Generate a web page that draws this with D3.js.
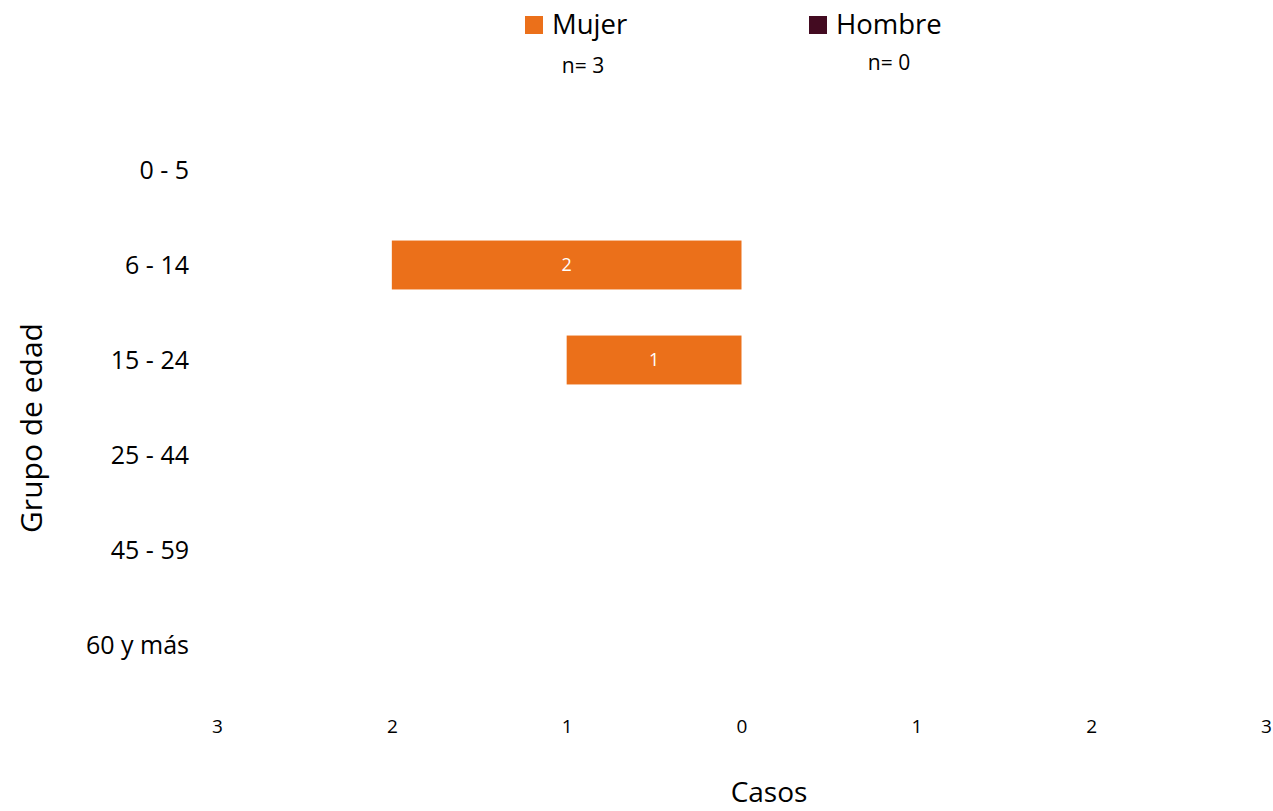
<!DOCTYPE html>
<html>
<head>
<meta charset="utf-8">
<script src="https://cdn.jsdelivr.net/npm/d3@7"></script>
<style>
  body { margin: 0; background: #fff; }
  text { font-family: "Open Sans", "Noto Sans", sans-serif; }
</style>
</head>
<body>
<svg id="chart"></svg>
<script>
const ageGroups = ["0 - 5", "6 - 14", "15 - 24", "25 - 44", "45 - 59", "60 y más"];
const mujerValues = [0, 2, 1, 0, 0, 0];
const hombreValues = [0, 0, 0, 0, 0, 0];
const xTicks = [-3, -2, -1, 0, 1, 2, 3];
const seriesNames = ["Mujer", "Hombre"];
const seriesTotals = [3, 0];
const seriesColors = ["#EB701A", "#430B21"];

const width = 1273;
const height = 811;

const svg = d3.select("#chart").attr("width", width).attr("height", height);

const x = d3.scaleLinear().domain([-3, 3]).range([217, 1266]);
const y = d3.scaleBand()
  .domain(ageGroups)
  .range([122.5, 692.5])
  .paddingInner(0.485)
  .paddingOuter(0.2425);

// bars: mujer to the left, hombre to the right
const rows = ageGroups.map((g, i) => ({ group: g, mujer: mujerValues[i], hombre: hombreValues[i] }));

svg.selectAll(".barM")
  .data(rows.filter(d => d.mujer > 0))
  .enter()
  .append("rect")
  .attr("class", "barM")
  .attr("x", d => x(-d.mujer))
  .attr("y", d => y(d.group))
  .attr("width", d => x(0) - x(-d.mujer))
  .attr("height", y.bandwidth())
  .style("fill", seriesColors[0]);

svg.selectAll(".barH")
  .data(rows.filter(d => d.hombre > 0))
  .enter()
  .append("rect")
  .attr("class", "barH")
  .attr("x", x(0))
  .attr("y", d => y(d.group))
  .attr("width", d => x(d.hombre) - x(0))
  .attr("height", y.bandwidth())
  .style("fill", seriesColors[1]);

svg.selectAll(".labM")
  .data(rows.filter(d => d.mujer > 0))
  .enter()
  .append("text")
  .attr("class", "labM")
  .attr("x", d => (x(-d.mujer) + x(0)) / 2)
  .attr("y", d => y(d.group) + y.bandwidth() / 2)
  .attr("dy", "0.36em")
  .style("text-anchor", "middle")
  .style("font-size", "18px")
  .style("fill", "#fff")
  .text(d => d.mujer);

// x axis (absolute values)
const xAxis = d3.axisBottom(x)
  .tickValues(xTicks)
  .tickFormat(d => Math.abs(d))
  .tickSize(0)
  .tickPadding(0);

const gx = svg.append("g").attr("transform", "translate(0,726)").call(xAxis);
gx.select(".domain").remove();
gx.selectAll("text")
  .attr("dy", "0.36em")
  .style("font-family", "'Open Sans', sans-serif")
  .style("font-size", "19px")
  .style("fill", "#000");

// y axis
const yAxis = d3.axisLeft(y).tickSize(0).tickPadding(0);
const gy = svg.append("g").attr("transform", "translate(189,0)").call(yAxis);
gy.select(".domain").remove();
gy.selectAll("text")
  .attr("dy", "0.36em")
  .style("font-family", "'Open Sans', sans-serif")
  .style("font-size", "25px")
  .style("fill", "#000");

// axis titles
svg.append("text")
  .attr("x", 769)
  .attr("y", 802)
  .style("text-anchor", "middle")
  .style("font-size", "28px")
  .text("Casos");

svg.append("text")
  .attr("transform", "translate(31,428) rotate(-90)")
  .attr("dy", "0.36em")
  .style("text-anchor", "middle")
  .style("font-size", "30px")
  .text("Grupo de edad");

// legend
const legendX = [525, 809];
const nX = [583, 889];
const nY = [65, 62];
const legend = svg.selectAll(".legend")
  .data(seriesNames)
  .enter()
  .append("g")
  .attr("class", "legend");

legend.append("rect")
  .attr("x", (d, i) => legendX[i])
  .attr("y", 16)
  .attr("width", 18)
  .attr("height", 18)
  .style("fill", (d, i) => seriesColors[i]);

legend.append("text")
  .attr("x", (d, i) => legendX[i] + 27)
  .attr("y", 34)
  .style("font-size", "27.5px")
  .text(d => d);

legend.append("text")
  .attr("x", (d, i) => nX[i])
  .attr("y", (d, i) => nY[i])
  .attr("dy", "0.36em")
  .style("text-anchor", "middle")
  .style("font-size", "21px")
  .text((d, i) => `n= ${seriesTotals[i]}`);
</script>
</body>
</html>
